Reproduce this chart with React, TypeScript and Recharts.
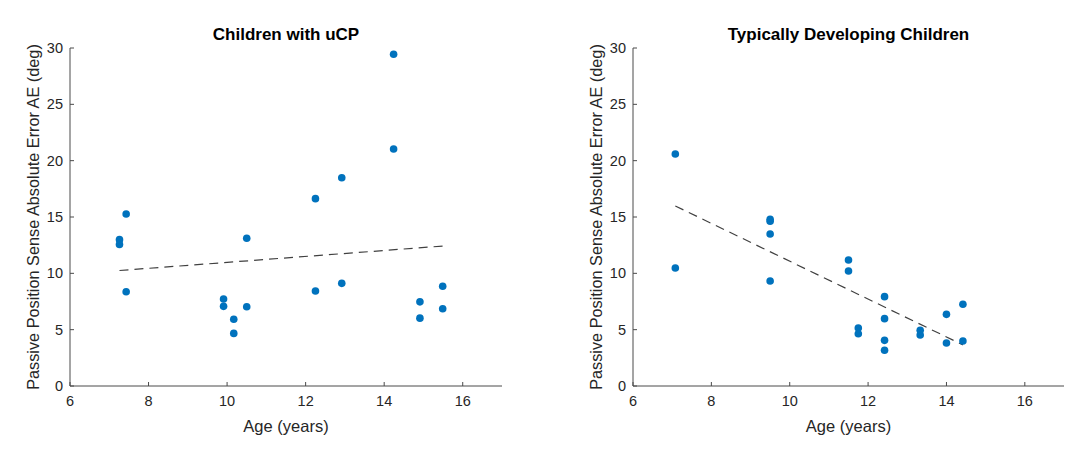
import React from "react";
import { ScatterChart, Scatter, XAxis, YAxis, ReferenceLine } from "recharts";

// Children with uCP
const ucpAge = [7.26, 7.26, 7.43, 7.43, 9.91, 9.91, 10.17, 10.17, 10.5, 10.5, 12.25, 12.25, 12.92, 12.92, 14.24, 14.24, 14.91, 14.91, 15.49, 15.49];
const ucpAE = [12.99, 12.57, 15.27, 8.37, 7.72, 7.07, 5.92, 4.67, 13.11, 7.04, 16.63, 8.43, 18.49, 9.11, 29.44, 21.04, 7.47, 6.02, 8.86, 6.85];
const ucpFitAge = [7.26, 15.49];
const ucpFitAE = [10.25, 12.42];

// Typically developing children
const tdAge = [7.08, 7.08, 9.5, 9.5, 9.5, 9.5, 11.5, 11.5, 11.75, 11.75, 12.42, 12.42, 12.42, 12.42, 13.33, 13.33, 14.0, 14.0, 14.42, 14.42];
const tdAE = [20.59, 10.47, 14.79, 14.62, 13.49, 9.32, 11.18, 10.21, 5.15, 4.64, 7.93, 5.98, 4.05, 3.17, 4.94, 4.53, 6.36, 3.82, 7.25, 3.99];
const tdFitAge = [7.08, 14.42];
const tdFitAE = [15.98, 3.65];

const xTicks = [6, 8, 10, 12, 14, 16];
const yTicks = [0, 5, 10, 15, 20, 25, 30];

const FONT = "'Liberation Sans', Arial, Helvetica, sans-serif";
const AXIS = "#4a4a4a";
const TEXT = "#262626";
const DOT = "#0072BD";

const Dot = (props: any) => <circle cx={props.cx} cy={props.cy} r={3.8} fill={DOT} />;

interface PanelProps {
  title: string;
  ages: number[];
  values: number[];
  fitAge: number[];
  fitAE: number[];
  left: number;
  marginLeft: number;
  marginRight: number;
}

function Panel({ title, ages, values, fitAge, fitAE, left, marginLeft, marginRight }: PanelProps) {
  const data = ages.map((a, i) => ({ age: a, ae: values[i] }));
  const plotWidth = 542 - marginLeft - 60 - marginRight;
  return (
    <div style={{ position: "absolute", left, top: 0, width: 542, height: 452 }}>
      <div
        style={{
          position: "absolute",
          left: marginLeft + 60,
          width: plotWidth,
          top: 26,
          textAlign: "center",
          fontFamily: FONT,
          fontWeight: "bold",
          fontSize: 17,
          lineHeight: "18px",
          color: "#000",
        }}
      >
        {title}
      </div>
      <ScatterChart width={542} height={452} margin={{ top: 48, right: marginRight, bottom: 26, left: marginLeft }}>
        <XAxis
          type="number"
          dataKey="age"
          domain={[6, 17]}
          ticks={xTicks}
          allowDataOverflow
          height={40}
          stroke={AXIS}
          tickSize={-4}
          tickMargin={14}
          tick={{ fill: TEXT, fontSize: 14.5, fontFamily: FONT }}
          label={{
            content: (p: any) => (
              <text
                x={p.viewBox.x + p.viewBox.width / 2}
                y={p.viewBox.y + 46}
                textAnchor="middle"
                fill={TEXT}
                fontSize={16.5}
                fontFamily={FONT}
              >
                Age (years)
              </text>
            ),
          }}
        />
        <YAxis
          type="number"
          dataKey="ae"
          domain={[0, 30]}
          ticks={yTicks}
          allowDataOverflow
          width={60}
          stroke={AXIS}
          tickSize={-4}
          tickMargin={11}
          tick={{ fill: TEXT, fontSize: 14.5, fontFamily: FONT }}
          label={{
            content: (p: any) => {
              const cx = p.viewBox.x + 23;
              const cy = p.viewBox.y + p.viewBox.height / 2;
              return (
                <text
                  x={cx}
                  y={cy}
                  transform={`rotate(-90 ${cx} ${cy})`}
                  textAnchor="middle"
                  dominantBaseline="central"
                  fill={TEXT}
                  fontSize={16.3}
                  fontFamily={FONT}
                >
                  Passive Position Sense Absolute Error AE (deg)
                </text>
              );
            },
          }}
        />
        <ReferenceLine
          segment={[
            { x: fitAge[0], y: fitAE[0] },
            { x: fitAge[1], y: fitAE[1] },
          ]}
          stroke="#404040"
          strokeWidth={1.2}
          strokeDasharray="9 6"
        />
        <Scatter data={data} shape={Dot} isAnimationActive={false} />
      </ScatterChart>
    </div>
  );
}

export default function App() {
  return (
    <div style={{ position: "absolute", left: 0, top: 0, width: 1084, height: 452, background: "#fff" }}>
      <Panel
        title="Children with uCP"
        ages={ucpAge}
        values={ucpAE}
        fitAge={ucpFitAge}
        fitAE={ucpFitAE}
        left={0}
        marginLeft={10}
        marginRight={40}
      />
      <Panel
        title="Typically Developing Children"
        ages={tdAge}
        values={tdAE}
        fitAge={tdFitAge}
        fitAE={tdFitAE}
        left={542}
        marginLeft={31}
        marginRight={20}
      />
    </div>
  );
}
